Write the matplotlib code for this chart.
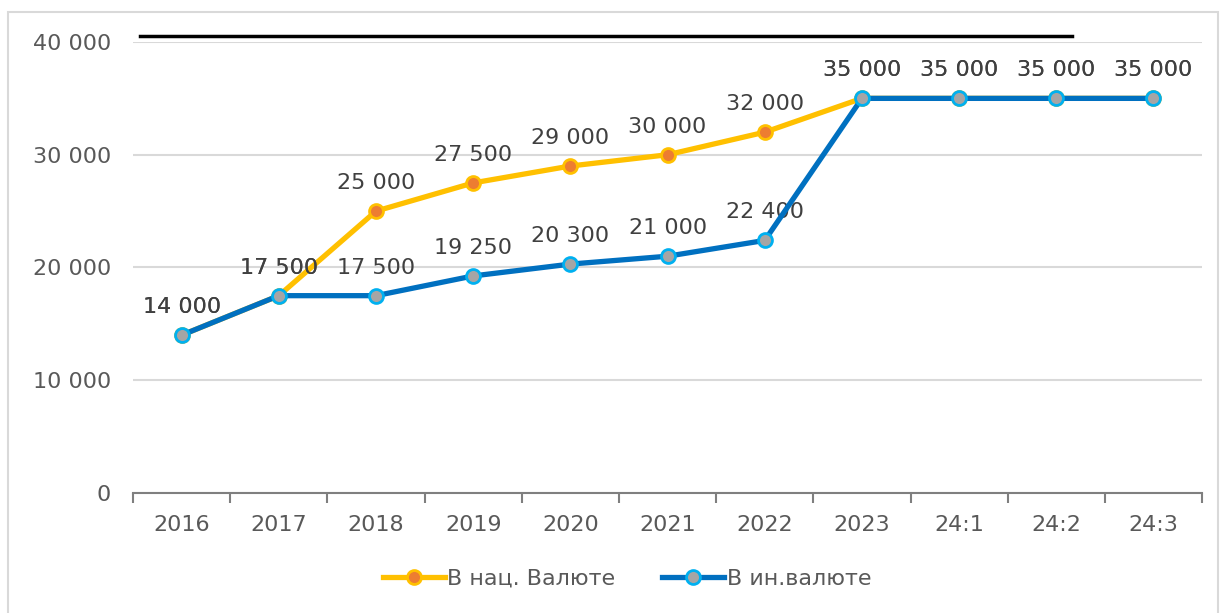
import matplotlib.pyplot as plt
from matplotlib.lines import Line2D
from matplotlib.patches import Rectangle

categories = ['2016', '2017', '2018', '2019', '2020', '2021', '2022', '2023', '24:1', '24:2', '24:3']
nat_values = [14000, 17500, 25000, 27500, 29000, 30000, 32000, 35000, 35000, 35000, 35000]
for_values = [14000, 17500, 17500, 19250, 20300, 21000, 22400, 35000, 35000, 35000, 35000]
yticks = [0, 10000, 20000, 30000, 40000]

def fmt(v):
    return '{:,}'.format(int(v)).replace(',', ' ')

plt.rcParams['font.family'] = ['DejaVu Sans']
text_color = '#595959'

fig = plt.figure(figsize=(12.25, 6.13), dpi=100)
ax = fig.add_axes([0.1086, 0.1958, 0.8727, 0.7357])

x = list(range(len(categories)))
ax.plot(x, nat_values, color='#FFC000', lw=3.8, marker='o', ms=10,
        mfc='#ED7D31', mec='#FFC000', mew=2, label='В нац. Валюте', zorder=3)
ax.plot(x, for_values, color='#0070C0', lw=3.8, marker='o', ms=10,
        mfc='#A5A5A5', mec='#00B0F0', mew=2, label='В ин.валюте', zorder=4)

# подписи значений над точками
for xi, v in zip(x, nat_values):
    ax.annotate(fmt(v), (xi, v), xytext=(0, 13), textcoords='offset points',
                ha='center', va='bottom', fontsize=16, color='#404040')
for xi, v in zip(x, for_values):
    ax.annotate(fmt(v), (xi, v), xytext=(0, 13), textcoords='offset points',
                ha='center', va='bottom', fontsize=16, color='#404040')

ax.set_xlim(-0.5, len(categories) - 0.5)
ax.set_ylim(0, 40000)
ax.set_yticks(yticks)
ax.set_yticklabels([fmt(v) for v in yticks], fontsize=16, color=text_color)
ax.set_xticks(x)
ax.set_xticklabels(categories, fontsize=16, color=text_color)
ax.set_xticks([i - 0.5 for i in range(len(categories) + 1)], minor=True)
ax.tick_params(axis='x', which='major', length=0, pad=16)
ax.tick_params(axis='x', which='minor', length=7, width=1.5, color='#7f7f7f')
ax.tick_params(axis='y', length=0, pad=16)
ax.grid(axis='y', color='#d9d9d9', lw=1.5)
ax.set_axisbelow(True)
for s in ['top', 'right', 'left']:
    ax.spines[s].set_visible(False)
ax.spines['bottom'].set_color('#7f7f7f')
ax.spines['bottom'].set_linewidth(1.5)

ax.legend(loc='center', bbox_to_anchor=(0.462, -0.19), ncol=2, frameon=False,
          fontsize=16, labelcolor=text_color, handlelength=2.8, columnspacing=2.1,
          handletextpad=0.1)

# рамка и черная линия сверху
fig.patches.append(Rectangle((8 / 1225, -0.01), 1210 / 1225, 1 - 12 / 613 + 0.01,
                             transform=fig.transFigure, fill=False,
                             edgecolor='#d9d9d9', lw=1.5))
fig.lines.append(Line2D([140 / 1225, 1072 / 1225], [1 - 36 / 613, 1 - 36 / 613],
                        transform=fig.transFigure, color='black', lw=2.5))

plt.savefig('out.png', dpi=100)
